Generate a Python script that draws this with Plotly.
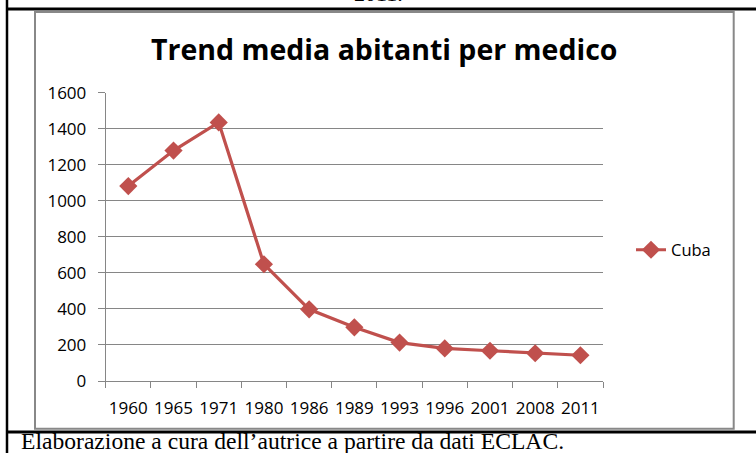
import plotly.graph_objects as go

years = ["1960", "1965", "1971", "1980", "1986", "1989", "1993", "1996", "2001", "2008", "2011"]
cuba = [1082, 1279, 1435, 648, 398, 298, 213, 181, 168, 154, 143]
y_ticks = [0, 200, 400, 600, 800, 1000, 1200, 1400, 1600]

W, H = 756, 453
def px(x):
    return x / W
def py(y):
    return 1 - y / H

RED = "#C0504D"
GRID = "#868686"
FONT = "Open Sans"

fig = go.Figure()
fig.add_trace(go.Scatter(
    x=years, y=cuba, name="Cuba", mode="lines+markers",
    line=dict(color=RED, width=3.2),
    marker=dict(symbol="diamond", size=14, color=RED),
))

fig.update_layout(
    width=W, height=H,
    margin=dict(l=0, r=0, t=0, b=0, autoexpand=False),
    paper_bgcolor="white", plot_bgcolor="white",
    showlegend=True,
    legend=dict(x=px(631), y=py(250), xanchor="left", yanchor="middle",
                font=dict(family=FONT, size=16.5, color="#000"),
                bgcolor="rgba(0,0,0,0)", itemwidth=30),
    xaxis=dict(domain=[px(105.7), px(603)], type="category",
               range=[-0.5, 10.5], showgrid=False, automargin=False,
               showline=True, linecolor=GRID, linewidth=1,
               ticks="outside", tickson="boundaries", ticklen=6, tickcolor=GRID,
               tickangle=0,
               tickfont=dict(family=FONT, size=17, color="#000"),
               ticklabelstandoff=12),
    yaxis=dict(domain=[py(381), py(92.7)], range=[0, 1600], automargin=False,
               tickvals=y_ticks, showgrid=True, gridcolor=GRID, gridwidth=1,
               showline=True, linecolor=GRID, linewidth=1,
               ticks="outside", ticklen=7, tickcolor=GRID,
               tickfont=dict(family=FONT, size=17, color="#000"),
               ticklabelstandoff=8, zeroline=False),
    shapes=[
        dict(type="rect", xref="paper", yref="paper",
             x0=px(35), x1=px(733.7), y0=py(428.7), y1=py(12),
             line=dict(color="#888888", width=2)),
        dict(type="line", xref="paper", yref="paper",
             x0=px(6), x1=px(760), y0=py(9), y1=py(9),
             line=dict(color="black", width=3)),
        dict(type="line", xref="paper", yref="paper",
             x0=px(6), x1=px(760), y0=py(432), y1=py(432),
             line=dict(color="black", width=3)),
        dict(type="line", xref="paper", yref="paper",
             x0=px(7), x1=px(7), y0=py(-5), y1=py(460),
             line=dict(color="black", width=2.5)),
    ],
    annotations=[
        dict(text="<b>Trend media abitanti per medico</b>", xref="paper", yref="paper",
             x=px(384), y=py(49), xanchor="center", yanchor="middle", showarrow=False,
             font=dict(family=FONT, size=28.5, color="#000")),
        dict(text="Elaborazione a cura dell’autrice a partire da dati ECLAC.",
             xref="paper", yref="paper", x=px(19), y=py(441), xanchor="left",
             yanchor="middle", showarrow=False,
             font=dict(family="Liberation Serif", size=23.6, color="#000")),
        dict(text="2011.", xref="paper", yref="paper", x=px(378), y=py(-6),
             xanchor="center", yanchor="middle", showarrow=False,
             font=dict(family="Liberation Serif", size=22, color="#000")),
    ],
)

fig.write_html("out.html")
